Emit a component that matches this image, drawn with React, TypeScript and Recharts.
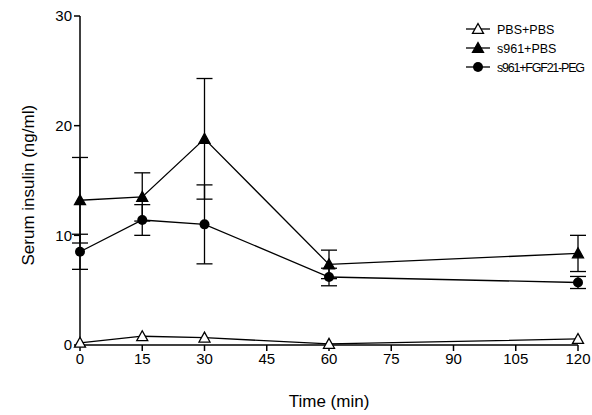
import React from "react";
import { LineChart, Line, XAxis, YAxis, ErrorBar } from "recharts";

// ---- Data ----
const TIMES = [0, 15, 30, 60, 120];
const PBS_PBS = [0.2, 0.8, 0.67, 0.1, 0.55];
const S961_PBS = [13.2, 13.5, 18.8, 7.35, 8.35];
const S961_PBS_SEM = [3.9, 2.2, 5.5, 1.3, 1.65];
const S961_FGF = [8.5, 11.4, 11.0, 6.2, 5.7];
const S961_FGF_SEM = [1.6, 1.4, 3.6, 0.8, 0.55];
const X_TICKS = [0, 15, 30, 45, 60, 75, 90, 105, 120];
const Y_TICKS = [0, 10, 20, 30];

const data = TIMES.map((t, i) => ({
  t,
  pbs: PBS_PBS[i],
  s961: S961_PBS[i],
  s961Err: S961_PBS_SEM[i],
  fgf: S961_FGF[i],
  fgfErr: S961_FGF_SEM[i],
}));

const FONT = "'Liberation Sans', Arial, sans-serif";

// ---- Markers ----
function Tri({ cx, cy, filled }: { cx?: number; cy?: number; filled: boolean }) {
  if (cx == null || cy == null) return null;
  const s = 5.5;
  return (
    <polygon
      points={`${cx},${cy - s} ${cx - s},${cy + s * 0.8} ${cx + s},${cy + s * 0.8}`}
      fill={filled ? "#000" : "#fff"}
      stroke="#000"
      strokeWidth={1.3}
    />
  );
}

function Dot({ cx, cy }: { cx?: number; cy?: number }) {
  if (cx == null || cy == null) return null;
  return <circle cx={cx} cy={cy} r={5} fill="#000" />;
}

function LegendBox() {
  const rows = [
    { label: "PBS+PBS", kind: "open" },
    { label: "s961+PBS", kind: "tri" },
    { label: "s961+FGF21-PEG", kind: "dot" },
  ];
  return (
    <svg style={{ position: "absolute", left: 0, top: 0 }} width={592} height={100}>
      {rows.map((r, i) => {
        const y = 29 + i * 19;
        return (
          <g key={r.label}>
            <line x1={466} y1={y} x2={490} y2={y} stroke="#000" strokeWidth={1.3} />
            {r.kind === "dot" ? <Dot cx={478} cy={y} /> : <Tri cx={478} cy={y} filled={r.kind === "tri"} />}
            <text x={497} y={y + 4.5} fontFamily={FONT} fontSize={12.5} textLength={r.kind === "dot" ? 88 : undefined}>
              {r.label}
            </text>
          </g>
        );
      })}
    </svg>
  );
}

export default function App() {
  return (
    <div style={{ position: "absolute", left: 0, top: 0, width: 592, height: 415, background: "#fff" }}>
      <LineChart width={592} height={415} data={data} margin={{ top: 16, right: 14, bottom: 0, left: 0 }}>
        <XAxis
          dataKey="t"
          type="number"
          domain={[0, 120]}
          ticks={X_TICKS}
          stroke="#000"
          strokeWidth={1.5}
          tickSize={6}
          tick={{ fill: "#000", fontFamily: FONT, fontSize: 15 }}
          height={70}
          label={{ value: "Time (min)", position: "insideBottom", offset: 8, style: { fill: "#000", fontFamily: FONT, fontSize: 17 } }}
        />
        <YAxis
          type="number"
          domain={[0, 30]}
          ticks={Y_TICKS}
          stroke="#000"
          strokeWidth={1.5}
          tickSize={6}
          width={80}
          tick={{ fill: "#000", fontFamily: FONT, fontSize: 15 }}
          label={{ value: "Serum insulin (ng/ml)", angle: -90, position: "insideLeft", offset: 28, dy: 85, style: { fill: "#000", fontFamily: FONT, fontSize: 17 } }}
        />
        <Line dataKey="pbs" stroke="#000" strokeWidth={1.3} isAnimationActive={false} dot={<Tri filled={false} />} />
        <Line dataKey="s961" stroke="#000" strokeWidth={1.3} isAnimationActive={false} dot={<Tri filled />}>
          <ErrorBar dataKey="s961Err" width={8} stroke="#000" strokeWidth={1.3} />
        </Line>
        <Line dataKey="fgf" stroke="#000" strokeWidth={1.3} isAnimationActive={false} dot={<Dot />}>
          <ErrorBar dataKey="fgfErr" width={8} stroke="#000" strokeWidth={1.3} />
        </Line>
      </LineChart>
      <LegendBox />
    </div>
  );
}
